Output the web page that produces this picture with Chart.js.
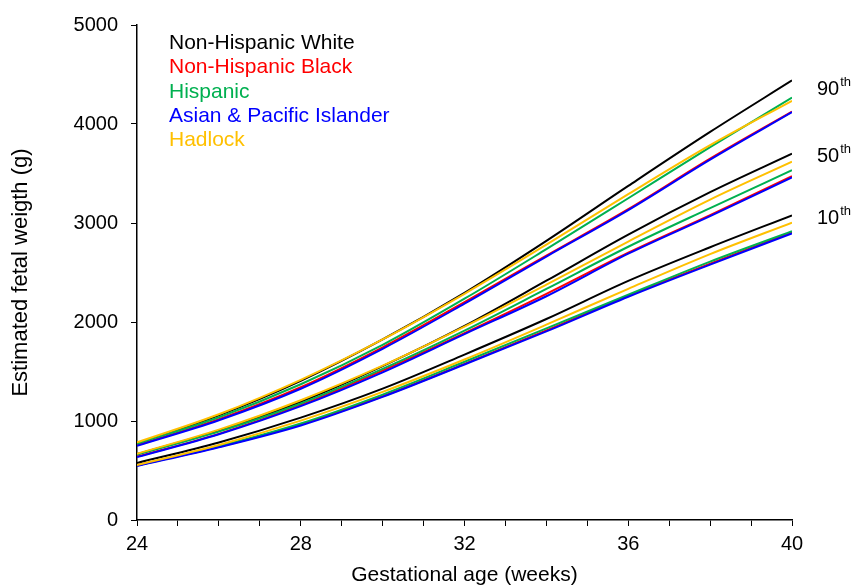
<!DOCTYPE html>
<html>
<head>
<meta charset="utf-8">
<script src="https://cdn.jsdelivr.net/npm/chart.js@4.4.1/dist/chart.umd.min.js"></script>
<style>
    html, body { margin: 0; padding: 0; background: #fff; }
</style>
</head>
<body>
<canvas id="fetalChart" width="855" height="588"></canvas>
<script>
const weeks = [24, 26, 28, 30, 32, 34, 36, 38, 40];
const groups = ['Non-Hispanic White', 'Non-Hispanic Black', 'Hispanic', 'Asian & Pacific Islander', 'Hadlock'];
const percentiles = ['90', '50', '10'];

// estimated fetal weight (g)
const white90 = [775, 1058, 1406, 1824, 2295, 2820, 3375, 3920, 4440];
const black90 = [755, 1018, 1341, 1744, 2200, 2671, 3140, 3650, 4125];
const hisp90 = [770, 1038, 1371, 1769, 2235, 2736, 3250, 3766, 4267];
const asian90 = [750, 1008, 1326, 1729, 2185, 2661, 3130, 3640, 4120];
const hadlock90 = [784, 1068, 1416, 1824, 2285, 2781, 3291, 3786, 4234];

const white50 = [665, 905, 1195, 1555, 1960, 2417, 2883, 3311, 3700];
const black50 = [640, 870, 1160, 1509, 1888, 2284, 2700, 3080, 3473];
const hisp50 = [660, 893, 1177, 1526, 1913, 2334, 2760, 3150, 3533];
const asian50 = [635, 866, 1150, 1492, 1878, 2260, 2690, 3070, 3460];
const hadlock50 = [670, 913, 1210, 1559, 1953, 2377, 2813, 3236, 3619];

const white10 = [576, 783, 1034, 1327, 1671, 2030, 2415, 2755, 3077];
const black10 = [553, 740, 965, 1250, 1577, 1915, 2265, 2590, 2908];
const hisp10 = [551, 745, 975, 1267, 1598, 1935, 2275, 2610, 2917];
const asian10 = [545, 735, 955, 1244, 1571, 1905, 2255, 2580, 2895];
const hadlock10 = [556, 758, 1004, 1294, 1621, 1973, 2335, 2686, 3004];

const yTicks = [0, 1000, 2000, 3000, 4000, 5000];
const xLabels = [24, 28, 32, 36, 40];

const colors = ['#000000', '#ff0000', '#00b050', '#0000ff', '#ffc000'];
const FONT = '"Liberation Sans", Arial, sans-serif';

const bySeries = [
    [white90, white50, white10],
    [black90, black50, black10],
    [hisp90, hisp50, hisp10],
    [asian90, asian50, asian10],
    [hadlock90, hadlock50, hadlock10]
];
// higher order is drawn first (underneath)
const drawOrder = [5, 4, 3, 2, 1];

const datasets = [];
bySeries.forEach((sets, g) => {
    sets.forEach((vals, p) => {
        datasets.push({
            label: groups[g] + ' ' + percentiles[p] + 'th',
            data: vals.map((v, i) => ({ x: weeks[i], y: v })),
            borderColor: colors[g],
            order: drawOrder[g]
        });
    });
});

const annotations = {
    id: 'annotations',
    afterDatasetsDraw(chart) {
        const { ctx } = chart;
        const y = chart.scales.y;
        ctx.save();
        ctx.textBaseline = 'middle';
        ctx.textAlign = 'left';

        // legend
        ctx.font = '21px ' + FONT;
        groups.forEach((g, i) => {
            ctx.fillStyle = colors[i];
            ctx.fillText(g, 169, 43 + i * 24.4);
        });

        // percentile labels beside the line ends
        const last = weeks.length - 1;
        percentiles.forEach((p, k) => {
            const mid = (bySeries[0][k][last] + bySeries[4][k][last]) / 2;
            const py = y.getPixelForValue(mid) - 1;
            ctx.fillStyle = '#000';
            ctx.font = '20px ' + FONT;
            ctx.fillText(p, 817, py);
            const w = ctx.measureText(p).width;
            ctx.font = '13px ' + FONT;
            ctx.fillText('th', 817 + w + 1, py - 7);
        });
        ctx.restore();
    }
};

new Chart(document.getElementById('fetalChart'), {
    type: 'line',
    data: { datasets: datasets },
    options: {
        responsive: false,
        animation: false,
        layout: { padding: { top: 20, right: 63, left: 0, bottom: 0 } },
        plugins: {
            legend: { display: false },
            tooltip: { enabled: false }
        },
        elements: {
            point: { radius: 0 },
            line: { borderWidth: 2, cubicInterpolationMode: 'monotone', fill: false }
        },
        scales: {
            x: {
                type: 'linear',
                min: 24,
                max: 40,
                afterFit: s => { s.height = 68; },
                ticks: {
                    stepSize: 1,
                    autoSkip: false,
                    maxRotation: 0,
                    padding: 6,
                    color: '#000',
                    font: { family: FONT, size: 20 },
                    callback: v => xLabels.includes(v) ? String(v) : ''
                },
                grid: { drawOnChartArea: false, drawTicks: true, tickLength: 6, color: '#000', lineWidth: 1 },
                border: { color: '#000', width: 1.5 },
                title: {
                    display: true,
                    text: 'Gestational age (weeks)',
                    color: '#000',
                    font: { family: FONT, size: 21 },
                    padding: { top: 0, bottom: 0 }
                }
            },
            y: {
                min: 0,
                max: 5000,
                afterFit: s => { s.width = 137; },
                afterBuildTicks: s => { s.ticks = yTicks.map(v => ({ value: v })); },
                ticks: {
                    padding: 13,
                    color: '#000',
                    font: { family: FONT, size: 20 },
                    callback: v => String(v)
                },
                grid: { drawOnChartArea: false, drawTicks: true, tickLength: 6, color: '#000', lineWidth: 1 },
                border: { color: '#000', width: 1.5 },
                title: {
                    display: true,
                    text: 'Estimated fetal weigth (g)',
                    color: '#000',
                    font: { family: FONT, size: 22 },
                    padding: { top: 8, bottom: 0 }
                }
            }
        }
    },
    plugins: [annotations]
});
</script>
</body>
</html>
